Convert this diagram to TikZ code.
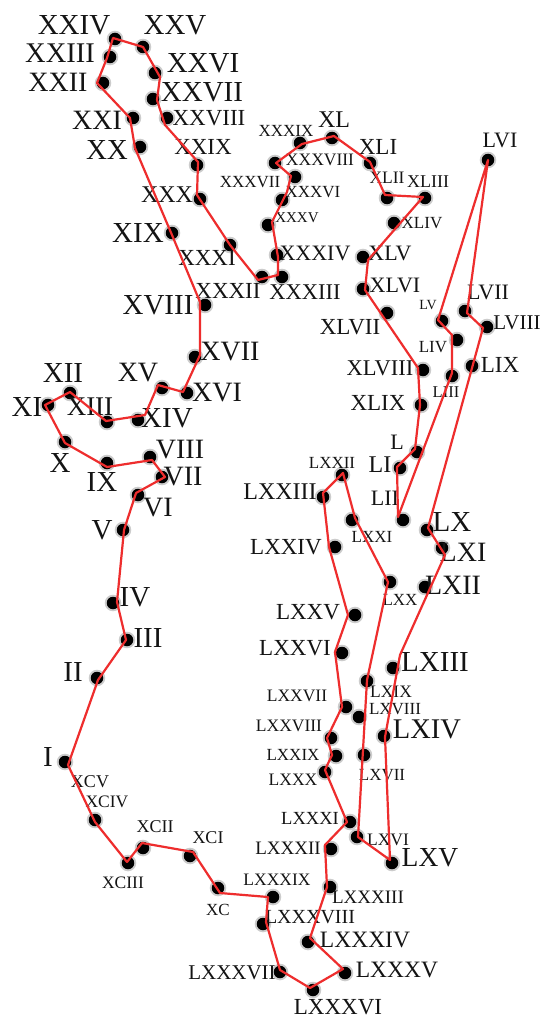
\documentclass[tikz,border=0pt]{standalone}
\usepackage{fontspec}
\setmainfont{Liberation Serif}
\definecolor{pathred}{RGB}{238,45,45}
\definecolor{labgray}{RGB}{20,20,20}
\begin{document}
\begin{tikzpicture}[x=1pt,y=-1pt,
  dotnode/.style={circle,fill=black,inner sep=0pt,minimum size=12.5pt,
    preaction={draw=black,draw opacity=0.2,line width=4pt}},
  lab/.style={inner sep=0pt,text=labgray},
  redpath/.style={draw=pathred,line width=2.2pt,line join=round}]
\useasboundingbox (0,0) rectangle (541,1019);
\fill[white] (0,0) rectangle (541,1019);
\foreach \n/\dx/\dy/\px/\py/\t/\lx/\ly/\fs in {
1/65/762/68/765/I/48/757/29,
2/97/678/98/680/II/73/672/29,
3/127/640/126/640/III/148/638/29,
4/113/603/117/602/IV/135/597/29,
5/123/530/124/530/V/102/530/29,
6/138/495/136/493/VI/158/508/28,
7/162/477/165/477/VII/183/477/28,
8/150/457/152/460/VIII/180/450/28,
9/107/463/107/467/IX/102/482/29,
10/65/442/65/443/X/60/463/29,
11/48/405/45/405/XI/27/407/29,
12/70/393/70/392/XII/63/373/29,
13/107/422/106/421/XIII/90/407/27,
14/138/420/145/415/XIV/167/418/29,
15/162/388/158/385/XV/138/373/28,
16/187/393/183/392/XVI/217/393/28,
17/195/357/200/355/XVII/230/352/28,
18/205/305/200/302/XVIII/158/305/29,
19/172/233/172/235/XIX/138/233/29,
20/140/147/135/148/XX/107/150/29,
21/133/118/130/118/XXI/97/120/28,
22/103/83/97/83/XXII/58/82/28,
23/110/57/107/58/XXIII/60/53/28.5,
24/115/39/113/38/XXIV/74/25/29,
25/143/47/143/47/XXV/175/25/29,
26/155/73/160/77/XXVI/203/63/29,
27/153/99/157/100/XXVII/202/92/29,
28/167/118/165/125/XXVIII/209/118/23,
29/197/165/198/162/XXIX/203/147/23,
30/200/199/197/195/XXX/167/195/24,
31/230/245/230/245/XXXI/207/258/23,
32/262/277/258/280/XXXII/228/291/23,
33/282/277/278/275/XXXIII/305/292/22.5,
34/277/255/278/257/XXXIV/315/253/22,
35/268/225/272/222/XXXV/297/218/15,
36/282/200/287/192/XXXVI/313/192/17,
37/295/177/291/176/XXXVII/250/182/17,
38/275/163/276/163/XXXVIII/320/160/17.5,
39/300/143/302/144/XXXIX/286/131/17,
40/332/138/334/136/XL/334/120/24,
41/370/163/370/162/XLI/378/147/23,
42/387/198/385/195/XLII/387/178/17.5,
43/425/198/423/197/XLIII/428/182/18,
44/394/223/394/223/XLIV/422/223/17,
45/363/257/368/260/XLV/390/253/22,
46/363/289/365/290/XLVI/395/285/22,
47/387/313/387/313/XLVII/350/327/23,
48/423/370/418/368/XLVIII/380/368/22.5,
49/421/405/420/405/XLIX/378/403/23,
50/417/452/415/449/L/397/442/22,
51/400/468/397/467/LI/380/465/24,
52/403/520/398/517/LII/385/498/22,
53/452/376/452/373/LIII/446/392/16.5,
54/457/340/452/335/LIV/433/347/17,
55/442/321/438/320/LV/428/305/14,
56/488/160/488/160/LVI/500/140/22,
57/465/311/467/313/LVII/488/292/22,
58/487/327/483/328/LVIII/517/323/21,
59/472/366/472/366/LIX/500/365/23,
60/427/530/428/528/LX/452/522/29,
61/442/548/445/555/LXI/463/552/28,
62/425/587/425/587/LXII/453/585/28,
63/393/668/400/655/LXIII/435/662/29,
64/384/736/385/737/LXIV/427/729/28.5,
65/392/863/390/860/LXV/430/858/27.5,
66/357/837/358/837/LXVI/388/840/17.5,
67/364/755/364/755/LXVII/382/775/17,
68/359/717/359/717/LXVIII/395/709/17,
69/367/681/367/680/LXIX/391/692/17.5,
70/390/582/388/582/LXX/400/600/17,
71/352/520/355/518/LXXI/372/537/17,
72/342/475/343/473/LXXII/332/463/17,
73/323/497/323/493/LXXIII/280/492/24,
74/335/547/329/547/LXXIV/286/547/23,
75/355/615/348/615/LXXV/308/612/23,
76/342/653/335/652/LXXVI/295/648/23,
77/346/707/342/707/LXXVII/297/696/17.5,
78/331/738/327/738/LXXVIII/289/726/17.5,
79/336/756/332/755/LXXIX/293/755/17,
80/325/772/325/770/LXXX/293/780/17.5,
81/350/822/347/822/LXXXI/310/818/18.5,
82/331/849/325/845/LXXXII/288/848/19,
83/330/887/327/887/LXXXIII/368/897/19,
84/308/942/310/938/LXXXIV/365/940/23.5,
85/345/973/343/969/LXXXV/397/970/23.5,
86/313/990/310/988/LXXXVI/338/1007/23,
87/280/972/280/970/LXXXVII/232/973/21,
88/263/924/266/922/LXXXVIII/310/917/20,
89/273/897/268/897/LXXXIX/277/880/17.5,
90/218/888/220/893/XC/218/910/17,
91/190/856/193/852/XCI/208/838/18,
92/143/848/142/843/XCII/155/827/18,
93/128/863/127/862/XCIII/123/883/17.5,
94/95/820/95/822/XCIV/107/802/17.5}{
  \node[dotnode] (d\n) at (\dx,\dy) {};
  \coordinate (p\n) at (\px,\py);
  \node[lab,font=\fontsize{\fs}{\fs}\selectfont] (l\n) at (\lx,\ly) {\t};
}
\node[lab,font=\fontsize{18}{18}\selectfont] (l95) at (90,782) {XCV};
\draw[redpath] (p1) -- (p2) -- (p3) -- (p4) -- (p5) -- (p6) -- (p7) -- (p8) -- (p9) -- (p10)
  -- (p11) -- (p12) -- (p13) -- (p14) -- (p15) -- (p16) -- (p17) -- (p18) -- (p19) -- (p20)
  -- (p21) -- (p22) -- (p23) -- (p24) -- (p25) -- (p26) -- (p27) -- (p28) -- (p29) -- (p30)
  -- (p31) -- (p32) -- (p33) -- (p34) -- (p35) -- (p36) -- (p37) -- (p38) -- (p39) -- (p40)
  -- (p41) -- (p42) -- (p43) -- (p45) -- (p46) -- (p48) -- (p49) -- (p50)
  -- (p51) -- (p52) -- (p53) -- (p54) -- (p55) -- (p56) -- (p57) -- (p58) -- (p60)
  -- (p61) -- (p63) -- (p64) -- (p65) -- (p66) -- (p69) -- (p70)
  -- (p71) -- (p72) -- (p73) -- (p74) -- (p75) -- (p76) -- (p77) -- (p78) -- (p79) -- (p80)
  -- (p81) -- (p82) -- (p83) -- (p84) -- (p85) -- (p86) -- (p87) -- (p88) -- (p89) -- (p90)
  -- (p91) -- (p92) -- (p93) -- (p94) -- cycle;
\end{tikzpicture}
\end{document}
